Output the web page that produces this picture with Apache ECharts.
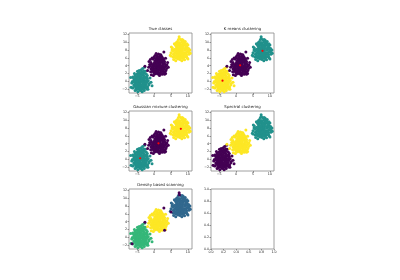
<!DOCTYPE html>
<html><head><meta charset="utf-8">
<script src="https://cdn.jsdelivr.net/npm/echarts@6/dist/echarts.min.js"></script>
<style>html,body{margin:0;padding:0;background:#fff}#c{width:400px;height:280px}</style>
</head><body><div id="c"></div>
<script>
// ---- data ----
const titles = ["True classes","K means clustering","Gaussian mixture clustering","Spectral clustering","Density based scanning"];
const xTicks = [-5,0,5,10];
const yTicks = [-2,0,2,4,6,8,10,12];
const unitTicks = [0,0.2,0.4,0.6,0.8,1.0];

// bottom-left blob
const blobA = [[-4.0,0.2],[-3.5,0.8],[-4.6,-0.4],[-3.2,-0.6],[-5.1,0.9],[-4.3,1.4],[-2.8,0.3],[-5.4,-0.3],[-3.9,-1.2],[-4.8,-1.5],[-3.0,1.5],[-2.4,-0.8],[-5.9,0.4],[-4.5,2.1],[-3.6,2.4],[-2.2,1.1],[-6.0,-0.9],[-5.2,-1.9],[-3.4,-1.9],[-2.6,-1.6],[-4.1,-2.3],[-1.7,0.2],[-6.4,0.0],[-5.6,1.6],[-2.9,2.2],[-4.9,2.6],[-3.8,3.0],[-1.9,-1.4],[-6.2,-1.7],[-4.4,-0.9],[-3.7,-0.1],[-4.7,0.5],[-3.3,1.0],[-5.0,-0.8],[-2.5,-0.2],[-5.7,-1.2],[-4.2,0.9],[-3.1,-1.1],[-4.0,1.8],[-5.3,0.2],[-2.0,0.8],[-4.6,-2.0],[-3.5,-2.6],[-1.4,-0.5],[-6.6,-0.4],[-2.3,1.9],[-5.8,2.0],[-3.9,-1.6],[-4.9,1.3],[-3.3,0.4],[-2.7,-1.0],[-5.5,-0.6],[-4.3,-1.3],[-3.6,1.7],[-2.1,-0.3],[-5.0,1.9],[-4.1,-0.4],[-1.2,0.9],[-6.3,1.1],[-2.9,-2.3],[-4.4,2.8],[-3.0,0.0],[-5.6,-2.3],[-1.8,-2.0],[-0.9,-0.2],[-6.8,-1.5],[-3.4,3.3],[-4.8,-2.6],[-2.6,2.6],[-5.2,-1.0],[-3.8,0.6],[-4.5,0.0],[-2.0,1.5],[-3.2,-1.5],[-0.6,-1.1],[-6.9,1.0],[-2.8,3.6],
  [-3.7,0.3],[-4.3,0.5],[-4.8,-0.1],[-3.4,-0.3],[-4.0,-0.8],[-3.0,0.7],[-4.6,1.1],[-5.3,0.6],[-3.9,1.2],[-2.9,-0.5],[-5.0,0.0],[-4.4,-1.7],[-3.6,-1.0],[-2.6,0.9],[-5.5,1.2],[-4.0,2.3],[-3.2,1.9],[-2.3,0.0],[-5.9,-0.2],[-5.1,-1.4],[-3.0,-1.8],[-4.7,1.6],[-3.5,2.0],[-2.4,-1.3],[-6.0,0.8],[-4.2,-1.9],[-3.8,-2.1],[-5.4,-1.6],[-2.1,0.4],[-1.6,-0.9],[-4.9,-0.5],[-3.3,-0.9],[-4.3,0.1],[-3.6,0.9],[-5.6,0.3],[-2.8,1.2],[-4.6,2.4],[-3.1,2.7],[-5.3,-2.1],[-2.2,-1.9]];
// middle blob
const blobB = [[1.2,4.1],[1.8,4.7],[0.6,3.5],[2.1,3.4],[0.2,4.8],[1.0,5.3],[2.6,4.3],[-0.2,3.9],[1.4,2.9],[0.4,2.6],[2.2,5.6],[3.0,3.1],[-0.7,4.4],[0.7,6.0],[1.6,6.3],[3.1,5.0],[-0.9,3.2],[-0.1,2.3],[1.9,2.3],[2.7,2.6],[1.1,1.9],[3.5,4.0],[-1.3,4.3],[-0.4,5.7],[2.4,6.1],[0.3,6.6],[1.3,7.0],[3.2,2.4],[-1.0,2.5],[0.8,3.1],[1.5,3.9],[0.5,4.4],[1.9,5.0],[0.1,3.3],[2.5,3.8],[-0.5,2.9],[1.1,4.9],[2.0,2.9],[1.2,5.8],[-0.1,4.2],[3.0,4.6],[0.5,2.0],[1.6,1.5],[3.7,3.3],[-1.6,3.6],[2.8,5.8],[-0.6,6.0],[1.2,2.4],[0.2,5.3],[1.8,4.2],[2.3,3.1],[-0.3,3.5],[0.9,3.0],[1.6,5.5],[2.9,3.7],[0.0,5.9],[1.0,3.7],[4.0,4.8],[-1.5,5.1],[2.4,1.8],[0.6,7.1],[1.9,3.6],[-0.8,1.7],[3.4,2.0],[4.2,3.6],[-1.9,2.8],[2.0,6.8],[-0.2,1.5],[3.4,5.9],[0.1,3.0],[1.4,4.5],[0.7,4.1],[2.8,4.4],[0.9,5.5],
  [1.0,4.4],[1.5,3.5],[0.4,3.9],[2.0,4.0],[0.8,4.9],[1.4,5.1],[2.4,4.8],[0.0,4.6],[1.7,3.0],[0.3,3.0],[2.5,5.2],[2.6,3.3],[-0.4,4.1],[1.0,6.2],[1.8,5.9],[3.3,4.3],[-0.6,3.6],[0.7,2.5],[2.2,2.6],[1.5,2.2],[3.1,3.6],[-0.9,4.8],[0.0,6.2],[2.2,6.4],[0.9,6.6],[2.7,2.1],[-0.3,2.6],[1.3,3.3],[0.6,5.7],[2.9,5.3],[-1.2,3.9],[3.8,4.2],[1.7,6.8],[0.2,1.9],[1.8,1.9],[3.5,2.8],[-1.1,5.6],[1.1,2.7],[2.1,5.2],[0.4,4.2]];
// top-right blob
const blobC = [[7.8,7.8],[8.4,8.4],[7.2,7.2],[8.7,7.1],[6.8,8.5],[7.6,9.0],[9.2,8.0],[6.4,7.6],[8.0,6.6],[7.0,6.3],[8.8,9.3],[9.6,6.8],[5.9,8.1],[7.3,9.7],[8.2,10.0],[9.7,8.7],[5.7,6.9],[6.5,6.0],[8.5,6.0],[9.3,6.3],[7.7,5.6],[10.1,7.7],[5.3,8.0],[6.2,9.4],[9.0,9.8],[6.9,10.2],[7.9,10.6],[9.8,6.0],[5.6,6.2],[7.4,6.8],[8.1,7.6],[7.1,8.0],[8.5,8.9],[6.7,7.0],[9.1,7.4],[6.1,6.6],[7.7,8.6],[8.6,6.7],[7.8,9.5],[6.5,8.9],[9.6,8.3],[7.1,5.7],[8.2,5.3],[10.3,6.9],[5.0,7.3],[9.4,9.4],[6.0,9.6],[7.8,6.1],[6.8,9.1],[8.4,7.9],[8.9,6.9],[6.3,7.4],[7.5,6.4],[8.2,9.2],[9.5,7.3],[6.6,9.9],[7.6,7.4],[10.6,8.0],[5.1,8.8],[9.0,5.5],[7.2,10.7],[8.5,7.2],[5.8,5.6],[10.0,5.7],[10.7,7.2],[4.8,6.7],[8.6,10.5],[6.4,5.3],[10.0,9.3],[6.7,6.6],[8.0,8.2],[7.3,7.7],[9.4,8.6],[7.5,9.2],
  [7.5,8.1],[8.1,7.2],[7.0,7.6],[8.4,7.5],[7.3,8.6],[8.0,8.9],[8.9,8.4],[6.6,8.1],[7.5,6.9],[6.8,6.7],[8.6,9.6],[9.3,7.0],[6.2,8.2],[7.6,9.9],[8.5,10.1],[9.4,9.0],[6.0,7.1],[6.9,5.9],[8.8,6.3],[9.8,7.5],[7.4,5.9],[10.2,8.4],[5.6,7.7],[6.5,9.4],[9.2,10.2],[7.1,9.5],[8.3,10.7],[9.6,6.3],[5.9,6.4],[7.8,7.0],[8.3,6.5],[6.9,9.8],[9.9,8.0],[7.2,6.0],[8.7,5.7],[6.3,6.1],[10.4,7.4],[5.4,8.5],[9.7,9.6],[8.0,6.0]];
// outliers (DBSCAN noise), grouped by true class
const noiseA = [[-6.5,-1.6]];
const noiseB = [[-2.7,3.9],[3.1,1.8],[2.9,7.5]];
const noiseC = [[5.0,6.5],[7.4,11.4],[7.5,10.9]];
const kmeansCenters = [[-4.0,0.2],[1.2,4.1],[7.8,7.8]];
const gmmCenters = [[-4.1,0.3],[1.3,4.1],[7.9,7.8]];

// ---- colours ----
const PURPLE='#440154', BLUE='#31688e', TEAL='#21918c', GREEN='#35b779', YELLOW='#fde725', RED='#ff0000';

const FONT = 'DejaVu Sans';
const grids = [
  {left:129, top:33, width:63, height:60},
  {left:211, top:33, width:63, height:60},
  {left:129, top:111, width:63, height:60},
  {left:211, top:111, width:63, height:60},
  {left:129, top:189, width:63, height:60},
  {left:211, top:189, width:63, height:60}
];
const minus = v => String(v).replace('-', '\u2212');

function axis(type, gi, min, max, ticks, fmt){
  return {
    type:'value', gridIndex:gi, min:min, max:max, scale:true,
    position: type==='x' ? 'bottom' : 'left',
    splitLine:{show:false},
    axisLine:{show:false, onZero:false},
    axisTick:{show:true, inside:false, length:1.5, customValues:ticks, lineStyle:{color:'#555', width:0.6}},
    axisLabel:{show:true, customValues:ticks, fontSize:3.3, fontFamily:FONT, color:'#222', margin:1.8, formatter:fmt}
  };
}

const xAxes=[], yAxes=[], series=[], titleOpts=[];
grids.forEach((g,i)=>{
  if(i<5){
    xAxes.push(axis('x', i, -7.4, 11.2, xTicks, minus));
    yAxes.push(axis('y', i, -2.95, 12.35, yTicks, minus));
  } else {
    xAxes.push(axis('x', i, 0, 1, unitTicks, v=>v.toFixed(1)));
    yAxes.push(axis('y', i, 0, 1, unitTicks, v=>v.toFixed(1)));
  }
});
const gridOpts = grids.map(g=>Object.assign({show:true, borderColor:'#888', borderWidth:0.8, backgroundColor:'#fff', containLabel:false}, g));

titles.forEach((t,i)=>{
  const g = grids[i];
  titleOpts.push({text:t, left:g.left+g.width/2, top:g.top-5.8, textAlign:'center', padding:0,
    textStyle:{fontSize:3.9, fontWeight:'normal', fontFamily:FONT, color:'#222'}});
});

function sc(gi, data, color, size){
  series.push({type:'scatter', xAxisIndex:gi, yAxisIndex:gi, data:data, symbol:'circle',
    symbolSize:size||3, itemStyle:{color:color, opacity:1}, silent:true, animation:false, z:2});
}
const allA = blobA.concat(noiseA), allB = blobB.concat(noiseB), allC = blobC.concat(noiseC);
// 0 true classes
sc(0, allA, TEAL); sc(0, allB, PURPLE); sc(0, allC, YELLOW);
// 1 k means
sc(1, allA, YELLOW); sc(1, allB, PURPLE); sc(1, allC, TEAL); sc(1, kmeansCenters, RED, 2.2);
// 2 gmm
sc(2, allA, TEAL); sc(2, allB, PURPLE); sc(2, allC, YELLOW); sc(2, gmmCenters, RED, 2.2);
// 3 spectral
sc(3, allA, PURPLE); sc(3, allB, YELLOW); sc(3, allC, TEAL);
// 4 dbscan
sc(4, blobA, GREEN); sc(4, blobB, YELLOW); sc(4, blobC, BLUE);
sc(4, noiseA.concat(noiseB, noiseC), PURPLE);

const chart = echarts.init(document.getElementById('c'), null, {renderer:'canvas'});
chart.setOption({
  animation:false,
  backgroundColor:'#fff',
  title:titleOpts,
  grid:gridOpts,
  xAxis:xAxes,
  yAxis:yAxes,
  series:series
});
</script></body></html>
